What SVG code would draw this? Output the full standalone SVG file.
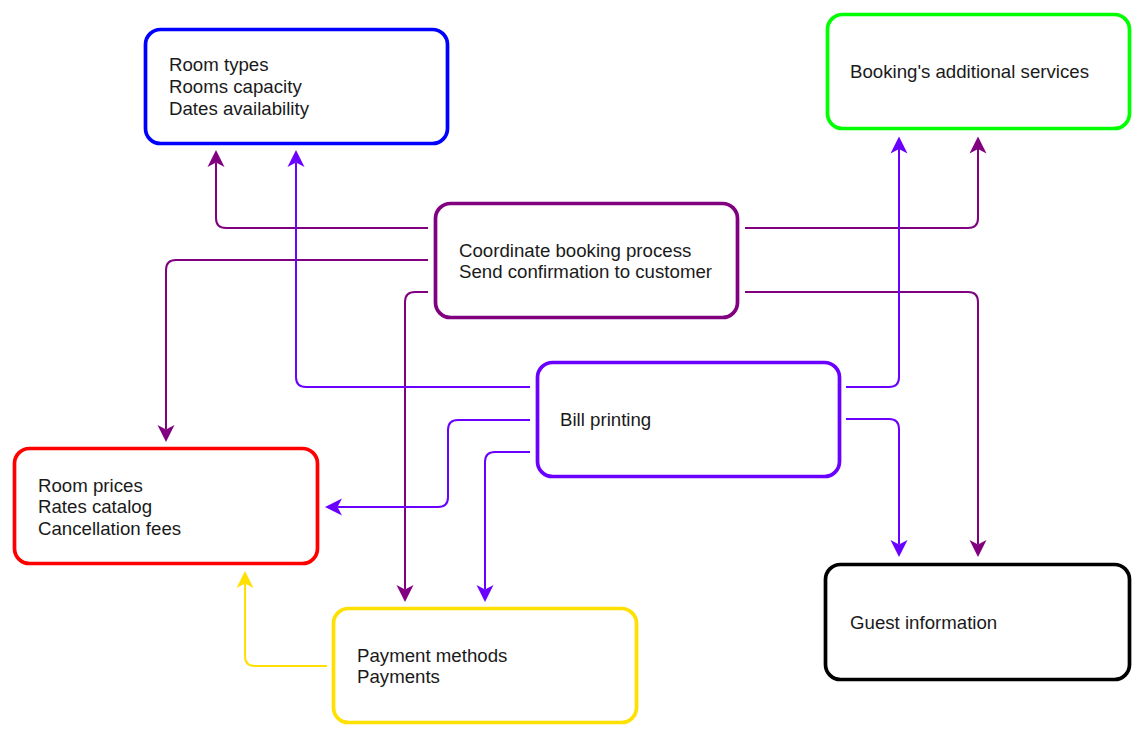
<svg xmlns="http://www.w3.org/2000/svg" width="1137" height="730" viewBox="0 0 1137 730">
<style>
.box{fill:#fff;stroke-width:3.7}
.t{font-family:"Liberation Sans",Arial,sans-serif;font-size:18.67px;fill:#1a1a1a}
.c{fill:none;stroke-width:2;stroke-linejoin:round}
.p{stroke:#800080}
.v{stroke:#6A00FF}
.y{stroke:#FFE000}
</style>
<defs>
<marker id="ap" markerUnits="userSpaceOnUse" markerWidth="20" markerHeight="20" refX="4.5" refY="8.5" orient="auto" viewBox="0 0 20 17"><path d="M0,0 L17,8.5 L0,17 L4.5,8.5 Z" fill="#800080"/></marker>
<marker id="av" markerUnits="userSpaceOnUse" markerWidth="20" markerHeight="20" refX="4.5" refY="8.5" orient="auto" viewBox="0 0 20 17"><path d="M0,0 L17,8.5 L0,17 L4.5,8.5 Z" fill="#6A00FF"/></marker>
<marker id="ay" markerUnits="userSpaceOnUse" markerWidth="20" markerHeight="20" refX="4.5" refY="8.5" orient="auto" viewBox="0 0 20 17"><path d="M0,0 L17,8.5 L0,17 L4.5,8.5 Z" fill="#FFE000"/></marker>
</defs>
<rect width="1137" height="730" fill="#fff"/>
<g id="connectors">
<path class="c p" d="M428,228 H226 Q216,228 216,218 V162.5" marker-end="url(#ap)"/>
<path class="c p" d="M428,260 H176 Q166,260 166,270 V429.5" marker-end="url(#ap)"/>
<path class="c p" d="M428,292 H415 Q405,292 405,302 V589.5" marker-end="url(#ap)"/>
<path class="c p" d="M745,228 H968 Q978,228 978,218 V149" marker-end="url(#ap)"/>
<path class="c p" d="M745,292 H968 Q978,292 978,302 V544.5" marker-end="url(#ap)"/>
<path class="c v" d="M530,387 H306 Q296,387 296,377 V162.5" marker-end="url(#av)"/>
<path class="c v" d="M846,387 H889 Q899,387 899,377 V149" marker-end="url(#av)"/>
<path class="c v" d="M846,419 H889 Q899,419 899,429 V544.5" marker-end="url(#av)"/>
<path class="c v" d="M530,420 H458 Q448,420 448,430 V497 Q448,507 438,507 H337.5" marker-end="url(#av)"/>
<path class="c v" d="M530,452 H495 Q485,452 485,462 V589.5" marker-end="url(#av)"/>
<path class="c y" d="M327,666 H255 Q245,666 245,656 V583.5" marker-end="url(#ay)"/>
</g>
<g id="rooms">
<rect class="box" x="145.5" y="29.5" width="302" height="114" rx="15" stroke="#0000FF"/>
<text class="t" x="169" y="71.3">Room types</text>
<text class="t" x="169" y="93">Rooms capacity</text>
<text class="t" x="169" y="114.7">Dates availability</text>
</g>
<g id="services">
<rect class="box" x="827.5" y="14.5" width="302" height="114" rx="15" stroke="#00FF00"/>
<text class="t" x="850" y="78">Booking's additional services</text>
</g>
<g id="coordinate">
<rect class="box" x="435.5" y="203.5" width="302" height="114" rx="15" stroke="#800080"/>
<text class="t" x="459" y="256.5">Coordinate booking process</text>
<text class="t" x="459" y="278">Send confirmation to customer</text>
</g>
<g id="bill">
<rect class="box" x="537.5" y="362.5" width="302" height="114" rx="15" stroke="#6A00FF"/>
<text class="t" x="560" y="426">Bill printing</text>
</g>
<g id="prices">
<rect class="box" x="14.5" y="448.5" width="303" height="115" rx="15" stroke="#FF0000"/>
<text class="t" x="38" y="491.5">Room prices</text>
<text class="t" x="38" y="513.2">Rates catalog</text>
<text class="t" x="38" y="534.9">Cancellation fees</text>
</g>
<g id="payment">
<rect class="box" x="333.5" y="608.5" width="303" height="114" rx="15" stroke="#FFE000"/>
<text class="t" x="357" y="661.5">Payment methods</text>
<text class="t" x="357" y="683">Payments</text>
</g>
<g id="guest">
<rect class="box" x="825.5" y="564.5" width="304" height="115" rx="15" stroke="#000000"/>
<text class="t" x="850" y="629">Guest information</text>
</g>
</svg>
